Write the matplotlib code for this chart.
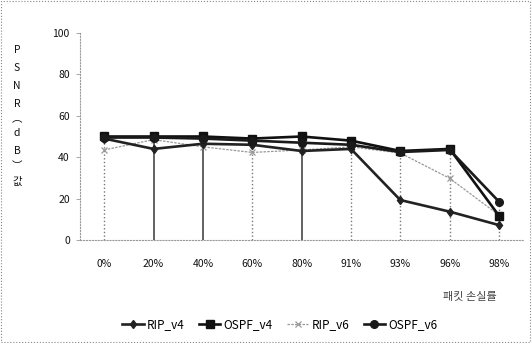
import matplotlib
matplotlib.use("Agg")
import matplotlib.pyplot as plt
from matplotlib.patches import Rectangle

plt.rcParams['font.family'] = ['Noto Sans CJK KR', 'DejaVu Sans']

categories = ['0%', '20%', '40%', '60%', '80%', '91%', '93%', '96%', '98%']
rip_v4 = [49, 44, 46.5, 46, 43, 44, 19.3, 13.7, 7.2]
ospf_v4 = [50, 50, 50, 49, 50, 48, 43, 44, 11.7]
rip_v6 = [43.5, 48.5, 45, 42.3, 43.5, 45, 42, 29.8, 12]
ospf_v6 = [49.5, 49.5, 49, 48, 47, 46, 42.5, 43.5, 18.5]
yticks = [0, 20, 40, 60, 80, 100]
xlabel = '패킷 손실률'
ylabel_chars = ['P', 'S', 'N', 'R', '︵', 'd', 'B', '︶', '값']

fig = plt.figure(figsize=(5.32, 3.43), dpi=100)
ax = fig.add_axes([79.5/532, 1-240/343, (523.7-79.5)/532, 207/343])

x = list(range(len(categories)))

# drop lines
tops = [max(a, b, c, d) for a, b, c, d in zip(rip_v4, ospf_v4, rip_v6, ospf_v6)]
styles = ['dotted', 'solid', 'solid', 'dotted', 'solid', 'dotted', 'dotted', 'dotted', 'dotted']
for xi, t, ls in zip(x, tops, styles):
    ax.vlines(xi, 0, t, colors='#555555' if ls == 'solid' else '#777777',
              linestyles=ls, lw=1.3 if ls == 'solid' else 1.0, zorder=1)

ax.plot(x, rip_v6, color='#999999', lw=0.9, ls=(0, (2, 1)), marker='x', ms=4.5, mew=0.9, label='RIP_v6', zorder=2)
ax.plot(x, rip_v4, color='#222222', lw=1.9, marker='d', ms=4.5, label='RIP_v4', zorder=3)
ax.plot(x, ospf_v4, color='#111111', lw=1.9, marker='s', ms=5.5, label='OSPF_v4', zorder=4)
ax.plot(x, ospf_v6, color='#1a1a1a', lw=1.9, marker='o', ms=5.5, label='OSPF_v6', zorder=5)

ax.set_xlim(-0.5, 8.5)
ax.set_ylim(0, 100)
ax.set_yticks(yticks)
ax.set_xticks(x)
ax.set_xticklabels(categories)
ax.tick_params(axis='both', labelsize=7.5, colors='#111111', length=3, width=0.6)
ax.tick_params(axis='x', length=0, pad=14)
ax.tick_params(axis='y', direction='out', color='#999999', pad=4)
for s in ['top', 'right']:
    ax.spines[s].set_visible(False)
ax.spines['left'].set_color('#999999')
ax.spines['left'].set_linestyle(':')
ax.spines['bottom'].set_color('#999999')
ax.spines['bottom'].set_linestyle(':')

# vertical stacked y label
ys = [50, 68, 86, 104, 119, 133, 151, 166, 182]
for ch, yy in zip(ylabel_chars, ys):
    fig.text(17/532, 1 - yy/343, ch, ha='center', va='center', fontsize=7.5, color='#111111')

fig.text(470/532, 1 - 297/343, xlabel, ha='center', va='center', fontsize=8, color='#444444')

handles, labels = ax.get_legend_handles_labels()
order = [labels.index(n) for n in ['RIP_v4', 'OSPF_v4', 'RIP_v6', 'OSPF_v6']]
fig.legend([handles[i] for i in order], [labels[i] for i in order],
           loc='center', bbox_to_anchor=(280/532, 1 - 325/343), ncol=4, frameon=False,
           fontsize=8.5, handlelength=1.8, handletextpad=0.3, columnspacing=1.2)

fig.patches.append(Rectangle((0.002, 0.003), 0.995, 0.994, transform=fig.transFigure,
                             fill=False, ec='#888888', lw=0.8, ls=':'))

fig.savefig('out.png', dpi=100)
